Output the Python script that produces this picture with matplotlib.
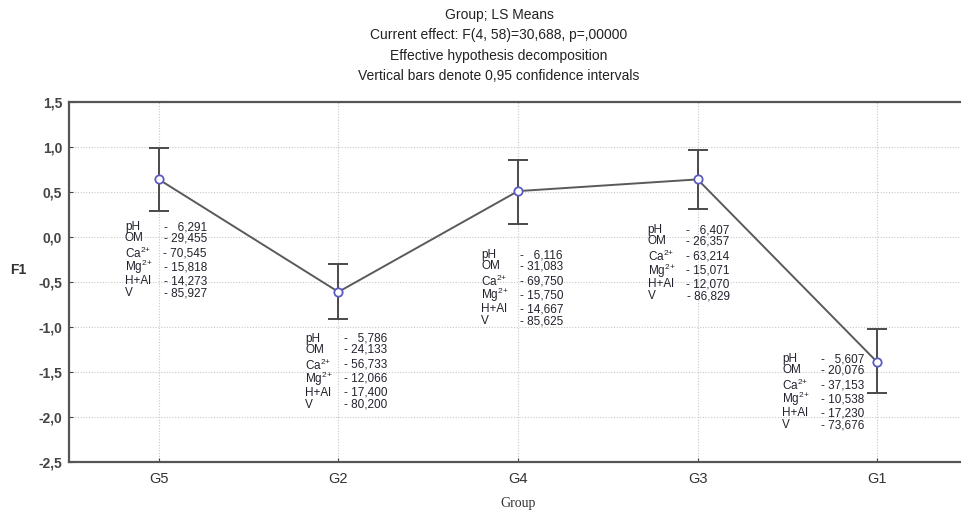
import matplotlib.pyplot as plt
import numpy as np

groups = ['G5', 'G2', 'G4', 'G3', 'G1']
means = [0.64, -0.61, 0.51, 0.64, -1.39]
ci_low = [0.29, -0.91, 0.14, 0.31, -1.73]
ci_high = [0.99, -0.30, 0.86, 0.97, -1.02]

# soil attributes shown next to each group mean
ph = ['6,291', '5,786', '6,116', '6,407', '5,607']
om = ['29,455', '24,133', '31,083', '26,357', '20,076']
ca = ['70,545', '56,733', '69,750', '63,214', '37,153']
mg = ['15,818', '12,066', '15,750', '15,071', '10,538']
hal = ['14,273', '17,400', '14,667', '12,070', '17,230']
v = ['85,927', '80,200', '85,625', '86,829', '73,676']

yticks = [1.5, 1.0, 0.5, 0.0, -0.5, -1.0, -1.5, -2.0, -2.5]

title_lines = ['Group; LS Means',
               'Current effect: F(4, 58)=30,688, p=,00000',
               'Effective hypothesis decomposition',
               'Vertical bars denote 0,95 confidence intervals']

# label block offsets from each point, in pixels (x right, y down)
block_off = [(-34, 48), (-33, 47), (-37, 64), (-50, 51), (-95, -3)]
line_dy = [0, 11, 26, 40, 54, 66]
block_w = 82

plt.rcParams['font.family'] = ['Liberation Sans', 'DejaVu Sans']
plt.rcParams['mathtext.fontset'] = 'custom'
plt.rcParams['mathtext.rm'] = 'Liberation Sans'
plt.rcParams['mathtext.it'] = 'Liberation Sans'

fig = plt.figure(figsize=(9.61, 5.13), dpi=100)
ax = fig.add_axes([69 / 961, 51 / 513, 898 / 961, 360 / 513])

x = np.arange(len(groups))
m = np.array(means)
yerr = [m - np.array(ci_low), np.array(ci_high) - m]

ax.errorbar(x, m, yerr=yerr, fmt='none', ecolor='#4a4a4a', elinewidth=1.4,
            capsize=7, capthick=1.4, zorder=3)
ax.plot(x, m, color='#5a5a5a', lw=1.4, marker='o', markersize=6,
        markerfacecolor='white', markeredgecolor='#5b5bc0', markeredgewidth=1.3, zorder=4)

ax.set_xlim(-0.5, 4.5)
ax.set_ylim(-2.5, 1.5)
ax.set_xticks(x)
ax.set_xticklabels(groups, fontsize=10.5, color='#333333')
ax.set_yticks(yticks)
ax.set_yticklabels(['{:.1f}'.format(t).replace('.', ',') for t in yticks],
                   fontsize=10, fontweight='bold', color='#444444')
ax.tick_params(axis='y', direction='in', length=3, color='#444444', pad=5)
ax.tick_params(axis='x', direction='in', length=3, color='#444444', pad=7)
ax.grid(True, linestyle=(0, (1, 1.5)), color='#c8c8c8', lw=0.8)
for s in ax.spines.values():
    s.set_color('#555555')
    s.set_linewidth(1.6)

ax.set_xlabel('Group', family='Liberation Serif', fontsize=10, color='#333333', labelpad=8)
fig.text(10 / 961, 1 - 270 / 513, 'F1', fontsize=10, fontweight='bold', color='#333333',
         va='center', ha='left')

for i, line in enumerate(title_lines):
    fig.text(499 / 961, 1 - (15 + 20.3 * i) / 513, line, ha='center', va='center',
             fontsize=10, color='#222222')

labels = ['pH', 'OM', 'Ca$^{2{+}}$', 'Mg$^{2{+}}$', 'H+Al', 'V']
txt_kw = dict(textcoords='offset pixels', fontsize=8.5, color='#22222e', va='center')
for i in range(len(groups)):
    vals = ['-   ' + ph[i], '- ' + om[i], '- ' + ca[i], '- ' + mg[i], '- ' + hal[i], '- ' + v[i]]
    dx, dy = block_off[i]
    for j in range(6):
        ax.annotate(labels[j], (x[i], m[i]), xytext=(dx, -(dy + line_dy[j])),
                    ha='left', **txt_kw)
        ax.annotate(vals[j], (x[i], m[i]), xytext=(dx + block_w, -(dy + line_dy[j])),
                    ha='right', **txt_kw)

fig.savefig('out.png', dpi=100)
